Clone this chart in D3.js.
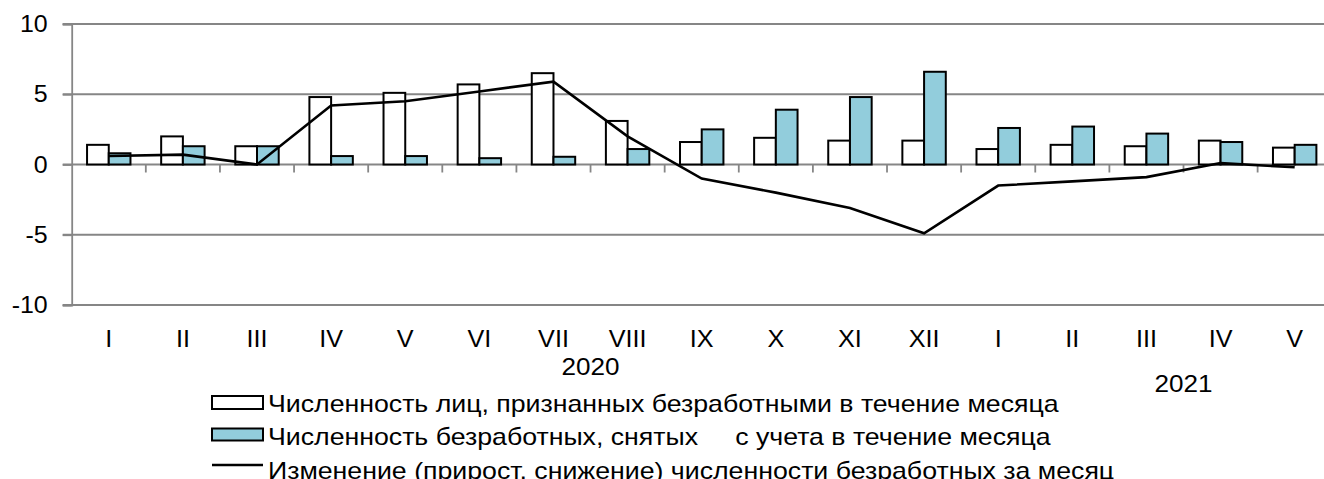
<!DOCTYPE html>
<html>
<head>
<meta charset="utf-8">
<script src="https://cdnjs.cloudflare.com/ajax/libs/d3/7.8.5/d3.min.js"></script>
<style>
  html, body { margin: 0; padding: 0; background: #fff; }
  svg text { font-family: "Liberation Sans", Arial, sans-serif; fill: #000; }
</style>
</head>
<body>
<svg id="chart" width="1324" height="479"></svg>
<script>
const months = ["I","II","III","IV","V","VI","VII","VIII","IX","X","XI","XII","I","II","III","IV","V"];
const recognized = [1.4, 2.0, 1.3, 4.8, 5.1, 5.7, 6.5, 3.1, 1.6, 1.9, 1.7, 1.7, 1.1, 1.4, 1.3, 1.7, 1.2];
const removed    = [0.8, 1.3, 1.3, 0.6, 0.6, 0.45, 0.55, 1.1, 2.5, 3.9, 4.8, 6.6, 2.6, 2.7, 2.2, 1.6, 1.4];
const change     = [0.6, 0.7, 0.0, 4.2, 4.5, 5.2, 5.9, 2.0, -1.0, -2.0, -3.1, -4.9, -1.5, -1.2, -0.9, 0.1, -0.2];
const yTicks = [-10, -5, 0, 5, 10];
const years = [{label: "2020", at: 7, row: 0}, {label: "2021", at: 15, row: 1}];
const seriesNames = [
  "Численность лиц, признанных безработными в течение месяца",
  "Численность безработных, снятых  с учета в течение месяца",
  "Изменение (прирост, снижение) численности безработных за месяц"
];

(function () {
const keys = months.map((m, i) => i + "-" + m);
const colors = { recognized: "#ffffff", removed: "#92cddc", grid: "#868686" };
const FONT = 24;

const svg = d3.select("#chart");
const left = 71.7, plotTop = 24, plotBottom = 305;
const step = 74.12;
const x = d3.scaleBand().domain(keys).range([left, left + step * keys.length]).padding(0);
const x1 = d3.scaleBand().domain(["recognized", "removed"]).range([0, x.bandwidth()]).paddingInner(0).paddingOuter(0.707);
const y = d3.scaleLinear().domain([-10, 10]).range([plotBottom, plotTop]);

// gridlines
svg.append("g").selectAll("line").data(yTicks).join("line")
  .attr("x1", left - 9).attr("x2", 1324)
  .attr("y1", d => y(d)).attr("y2", d => y(d))
  .attr("stroke", colors.grid).attr("stroke-width", 1.8);

// y axis
const yAxis = svg.append("g").attr("transform", `translate(${left},0)`)
  .call(d3.axisLeft(y).tickValues(yTicks).tickSize(9).tickPadding(15).tickFormat(d => String(d)));
yAxis.select(".domain").attr("stroke", colors.grid).attr("stroke-width", 1.8);
yAxis.selectAll(".tick line").attr("stroke", colors.grid).attr("stroke-width", 1.8);
yAxis.selectAll(".tick text")
  .attr("font-size", FONT).attr("font-family", "Liberation Sans, Arial, sans-serif").attr("fill", "#000")
  .each(function () {
    const t = d3.select(this);
    const w = this.getComputedTextLength();
    t.attr("textLength", w * 1.04).attr("lengthAdjust", "spacingAndGlyphs");
  });

// category ticks on zero line
svg.append("g").selectAll("line").data(keys.slice(1)).join("line")
  .attr("x1", d => x(d)).attr("x2", d => x(d))
  .attr("y1", y(0)).attr("y2", y(0) + 8)
  .attr("stroke", colors.grid).attr("stroke-width", 1.8);

// bars
const barData = [];
keys.forEach((k, i) => {
  barData.push({k, s: "recognized", v: recognized[i]});
  barData.push({k, s: "removed", v: removed[i]});
});
svg.append("g").selectAll("rect").data(barData).join("rect")
  .attr("x", d => x(d.k) + x1(d.s))
  .attr("width", x1.bandwidth())
  .attr("y", d => y(Math.max(0, d.v)))
  .attr("height", d => Math.abs(y(d.v) - y(0)))
  .attr("fill", d => colors[d.s])
  .attr("stroke", "#000").attr("stroke-width", 2);

// line
const line = d3.line().x((d, i) => x(keys[i]) + x.bandwidth() / 2).y(d => y(d));
svg.append("path").datum(change)
  .attr("d", line).attr("fill", "none")
  .attr("stroke", "#000").attr("stroke-width", 2.6).attr("stroke-linejoin", "miter");

// x labels
svg.append("g").selectAll("text").data(keys).join("text")
  .attr("transform", d => `translate(${x(d) + x.bandwidth() / 2},346.5) scale(1.05,1)`)
  .attr("text-anchor", "middle").attr("font-size", FONT)
  .text((d, i) => months[i]);

// year labels
svg.append("g").selectAll("text").data(years).join("text")
  .attr("transform", d => `translate(${x(keys[d.at])},${d.row === 0 ? 375 : 391.5}) scale(1.087,1)`)
  .attr("text-anchor", "middle").attr("font-size", FONT)
  .text(d => d.label);

// legend
const lg = svg.append("g");
const lx = 212;
lg.append("rect").attr("x", lx).attr("y", 396).attr("width", 51).attr("height", 13)
  .attr("fill", colors.recognized).attr("stroke", "#000").attr("stroke-width", 2);
lg.append("rect").attr("x", lx).attr("y", 428.5).attr("width", 51).attr("height", 12)
  .attr("fill", colors.removed).attr("stroke", "#000").attr("stroke-width", 2);
lg.append("line").attr("x1", lx).attr("x2", lx + 51).attr("y1", 465).attr("y2", 465)
  .attr("stroke", "#000").attr("stroke-width", 2.6);
const baselines = [411.7, 445, 478.5];
lg.selectAll("text").data(seriesNames).join("text")
  .attr("transform", (d, i) => `translate(268,${baselines[i]}) scale(1.113,1)`)
  .attr("font-size", FONT)
  .style("white-space", "pre")
  .each(function (d) {
    const t = d3.select(this);
    const parts = d.split("  ");
    if (parts.length === 2) {
      t.append("tspan").text(parts[0] + " ");
      t.append("tspan").attr("dx", 20).text(" " + parts[1]);
    } else {
      t.text(d);
    }
  });
})();
</script>
</body>
</html>
